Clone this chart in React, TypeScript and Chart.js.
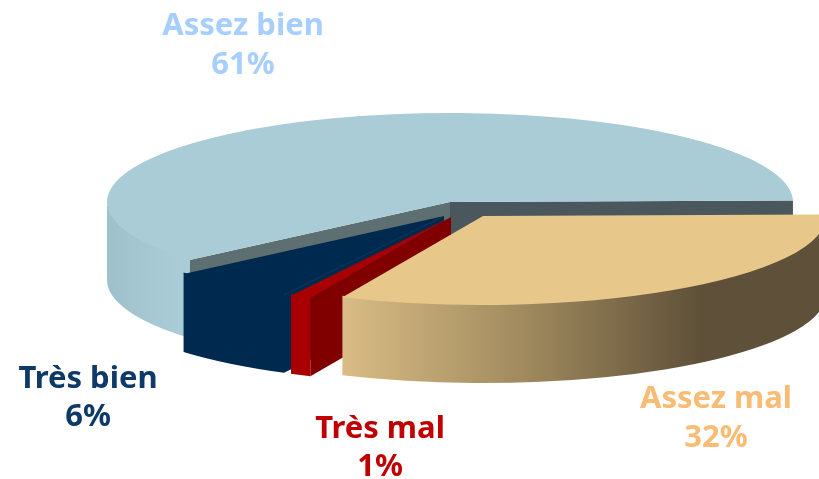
import React, { useEffect, useRef } from "react";
import { Chart, registerables } from "chart.js";

Chart.register(...registerables);

// Data, clockwise from the right-hand edge of the pie
const categories = ["Assez mal", "Très mal", "Très bien", "Assez bien"];
const values = [32, 1, 6, 61];

// Styles
const topColors = ["#e8c88a", "#a80000", "#00294f", "#a9ccd6"];
const labelColors = ["#f9bc74", "#c00000", "#0f3a68", "#a6cfff"];
const cutColors = ["#6b5a3e", "#800000", "#00294f", "#5e6f72"];
const endCutColors = ["#6b5a3e", "#800000", "#00294f", "#4a585e"];
const wallGradients: [number, number, [number, string][]][] = [
  [346, 700, [[0, "#d8bb84"], [0.5, "#a08a5e"], [1, "#5f5039"]]],
  [289, 312, [[0, "#a80000"], [1, "#a80000"]]],
  [184, 290, [[0, "#00294f"], [1, "#00294f"]]],
  [107, 175, [[0, "#9dc0ca"], [1, "#a9ccd6"]]],
];
const shifts: [number, number][] = [[33, 14], [1, 15], [-6, 14], [0, 0]];
const labelSpots: [number, number, number][] = [
  [716, 408, 447],
  [380, 438, 476],
  [88, 388, 426],
  [243, 35, 74],
];
const drawOrder = [3, 2, 1, 0];
const CX = 450, CY = 202, RX = 343, RY = 89, DEPTH = 78;

const pie3d = {
  id: "pie3d",
  beforeDatasetsDraw(chart: any) {
    const ctx = chart.ctx as CanvasRenderingContext2D;
    const arcs = chart.getDatasetMeta(0).data;
    for (const i of drawOrder) {
      const arc = arcs[i];
      const px = CX + shifts[i][0];
      const py = CY + shifts[i][1];
      const a = arc.startAngle, b = arc.endAngle;
      const quad = (angle: number, color: string) => {
        const ex = px + RX * Math.cos(angle), ey = py + RY * Math.sin(angle);
        ctx.fillStyle = color;
        ctx.beginPath();
        ctx.moveTo(px, py);
        ctx.lineTo(ex, ey);
        ctx.lineTo(ex, ey + DEPTH);
        ctx.lineTo(px, py + DEPTH);
        ctx.closePath();
        ctx.fill();
      };
      if (Math.cos(a) < 0) quad(a, cutColors[i]);
      if (Math.cos(b) > 0) quad(b, endCutColors[i]);
      const [g0, g1, stops] = wallGradients[i];
      const grad = ctx.createLinearGradient(g0, 0, g1, 0);
      stops.forEach(([o, c]) => grad.addColorStop(o, c));
      ctx.fillStyle = grad;
      for (let k = -1; k <= 1; k++) {
        const lo = Math.max(a, 2 * Math.PI * k);
        const hi = Math.min(b, Math.PI + 2 * Math.PI * k);
        if (hi <= lo) continue;
        ctx.beginPath();
        ctx.ellipse(px, py - 1.5, RX, RY, 0, lo, hi);
        ctx.ellipse(px, py + DEPTH, RX, RY, 0, hi, lo, true);
        ctx.closePath();
        ctx.fill();
      }
      ctx.save();
      ctx.translate(px, py);
      ctx.scale(RX / arc.outerRadius, RY / arc.outerRadius);
      ctx.translate(-arc.x, -arc.y);
      arc.draw(ctx);
      ctx.restore();
    }
  },
  beforeDatasetDraw() {
    return false;
  },
  afterDraw(chart: any) {
    const ctx = chart.ctx as CanvasRenderingContext2D;
    ctx.save();
    ctx.font = "bold 31px 'Noto Sans'";
    ctx.textAlign = "center";
    ctx.textBaseline = "alphabetic";
    categories.forEach((name, i) => {
      const [x, y1, y2] = labelSpots[i];
      ctx.fillStyle = labelColors[i];
      ctx.fillText(name, x, y1);
      ctx.fillText(`${values[i]}%`, x, y2);
    });
    ctx.restore();
  },
};

export default function App() {
  const ref = useRef<HTMLCanvasElement>(null);
  useEffect(() => {
    document.body.style.margin = "0";
    const chart = new Chart(ref.current!, {
      type: "pie",
      data: {
        labels: categories,
        datasets: [{ data: values, backgroundColor: topColors, borderWidth: 0 }],
      },
      options: {
        responsive: false,
        animation: false,
        rotation: 89,
        layout: { padding: 0 },
        plugins: { legend: { display: false }, tooltip: { enabled: false } },
      },
      plugins: [pie3d],
    } as any);
    return () => chart.destroy();
  }, []);
  return <canvas ref={ref} width={819} height={479} style={{ display: "block" }} />;
}
